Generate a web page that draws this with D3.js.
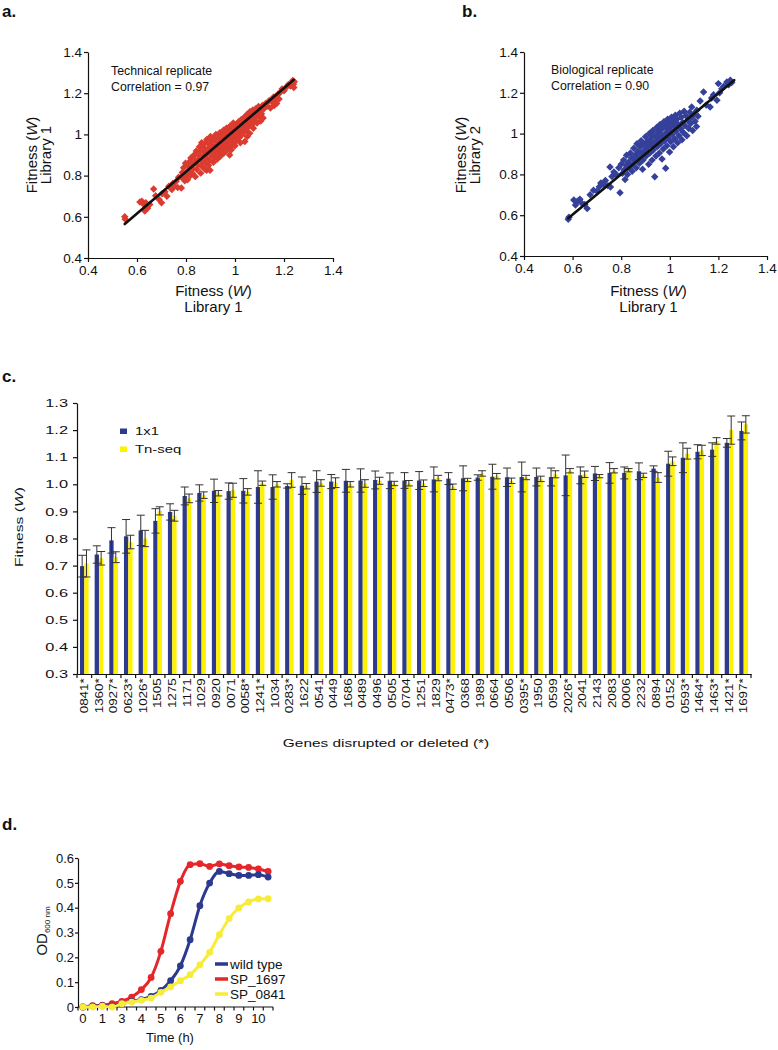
<!DOCTYPE html>
<html><head><meta charset="utf-8">
<script src="https://cdn.jsdelivr.net/npm/d3@7/dist/d3.min.js"></script>
<style>
html,body{margin:0;padding:0;background:#fff;}
svg{display:block;}
text{font-family:'Liberation Sans',Arial,Helvetica,sans-serif;fill:#111;}
</style></head><body>
<svg id="fig" width="778" height="1050"></svg>
<script>
// ================= DATA =================
// Panel a: technical replicate (Library 1 vs Library 1)
const techPoints = [
[0.550,0.600],[0.552,0.588],[0.612,0.672],[0.620,0.676],[0.626,0.662],[0.636,0.668],[0.632,0.628],[0.643,0.642],
[0.652,0.660],[0.668,0.735],[0.676,0.702],[0.690,0.684],[0.700,0.668],[0.702,0.712],[0.714,0.722],[0.722,0.700],
[0.730,0.748],[0.742,0.732],[0.746,0.762],[0.752,0.748],[0.760,0.772],[0.766,0.742],[0.770,0.792],[0.781,0.740],
[0.884,0.826],[0.898,0.826],[0.978,0.900],
[0.782,0.792],[0.785,0.815],[0.790,0.838],[0.795,0.775],[0.798,0.860],[0.800,0.800],
[0.806,0.780],[0.808,0.822],[0.812,0.846],[0.815,0.868],[0.818,0.800],[0.820,0.885],
[0.826,0.812],[0.828,0.835],[0.830,0.858],[0.833,0.900],[0.836,0.878],[0.838,0.795],[0.842,0.920],[0.845,0.830],[0.847,0.852],
[0.850,0.875],[0.852,0.898],[0.855,0.940],[0.857,0.918],[0.860,0.812],[0.862,0.848],[0.864,0.960],[0.866,0.870],[0.868,0.895],
[0.872,0.935],[0.874,0.915],[0.876,0.832],[0.878,0.958],[0.880,0.860],[0.882,0.885],[0.885,0.975],[0.887,0.905],[0.889,0.930],
[0.892,0.850],[0.895,0.952],[0.897,0.875],[0.900,0.990],[0.902,0.900],[0.904,0.925],[0.906,0.968],[0.908,0.945],
[0.912,0.865],[0.914,0.890],[0.916,0.985],[0.918,0.915],[0.920,0.940],[0.922,1.000],[0.925,0.962],[0.928,0.880],
[0.930,0.905],[0.932,0.930],[0.934,0.982],[0.936,0.955],[0.938,1.008],[0.941,0.895],[0.944,0.920],[0.946,0.945],[0.948,0.972],
[0.951,0.995],[0.953,1.020],[0.955,0.910],[0.958,0.935],[0.960,0.960],[0.962,0.985],[0.965,1.030],[0.967,1.008],[0.969,0.925],
[0.972,0.950],[0.974,0.975],[0.976,1.000],[0.979,1.040],[0.981,1.022],[0.983,0.940],[0.986,0.965],[0.988,0.990],[0.985,0.925],
[0.991,1.015],[0.993,1.055],[0.995,0.955],[0.998,0.980],[1.000,1.005],[1.002,1.035],[1.005,0.970],[1.007,1.050],[1.000,0.945],
[1.010,0.995],[1.012,1.020],[1.015,1.062],[1.018,0.985],[1.020,1.042],[1.023,1.010],[1.026,1.072],[1.022,0.960],
[1.028,0.998],[1.031,1.030],[1.034,1.055],[1.036,1.012],[1.039,1.085],[1.042,1.040],[1.045,1.020],[1.040,0.965],
[1.048,1.065],[1.050,1.098],[1.053,1.035],[1.056,1.050],[1.058,1.080],[1.061,1.110],[1.064,1.062],[1.050,0.990],[1.060,1.005],
[1.067,1.092],[1.070,1.048],[1.073,1.118],[1.076,1.075],[1.079,1.100],[1.082,1.068],[1.085,1.125],[1.075,1.030],
[1.088,1.090],[1.092,1.110],[1.096,1.135],[1.100,1.085],[1.104,1.118],[1.108,1.100],[1.112,1.140],[1.118,1.125],
[1.090,1.055],[1.105,1.065],[1.115,1.080],
[1.125,1.150],[1.132,1.138],[1.140,1.165],[1.150,1.160],[1.158,1.182],[1.165,1.175],[1.175,1.195],[1.185,1.205],
[1.192,1.220],[1.200,1.212],[1.210,1.230],[1.218,1.242],[1.226,1.235],[1.232,1.250],[1.238,1.244],[1.240,1.228],
[1.242,1.255],[1.236,1.262],[1.160,1.140],[1.145,1.128],[1.170,1.150],[1.180,1.172]
];
const techFit = [[0.55,0.565],[1.24,1.265]];

// Panel b: biological replicate (Library 2 vs Library 1)
const bioPoints = [
[0.582,0.580],[0.585,0.590],[0.605,0.675],[0.612,0.650],[0.620,0.668],[0.630,0.678],[0.637,0.660],[0.650,0.652],
[0.660,0.633],[0.672,0.700],[0.686,0.722],[0.700,0.718],[0.710,0.740],[0.716,0.758],[0.726,0.752],[0.735,0.770],
[0.745,0.745],[0.754,0.836],[0.756,0.738],[0.762,0.790],[0.770,0.812],[0.780,0.800],[0.790,0.832],[0.795,0.710],
[0.800,0.850],[0.805,0.805],
[0.810,0.870],[0.812,0.822],[0.816,0.775],[0.820,0.845],[0.822,0.894],[0.826,0.800],[0.830,0.860],[0.834,0.830],
[0.838,0.905],[0.842,0.880],[0.845,0.815],[0.848,0.850],[0.852,0.928],[0.855,0.870],[0.858,0.895],[0.862,0.832],
[0.865,0.950],[0.868,0.912],[0.872,0.880],[0.875,0.855],[0.878,0.935],[0.882,0.965],[0.885,0.900],[0.888,0.825],
[0.890,0.870],[0.893,0.948],[0.896,0.920],[0.900,0.985],[0.903,0.890],[0.906,0.960],[0.910,0.935],[0.913,0.850],
[0.916,1.000],[0.918,0.905],[0.921,0.975],[0.924,0.945],[0.927,0.870],[0.930,1.015],[0.932,0.920],[0.935,0.990],
[0.938,0.788],[0.940,0.960],[0.943,0.890],[0.946,1.030],[0.948,0.935],[0.951,1.005],[0.954,0.975],[0.957,0.905],
[0.960,1.045],[0.962,0.950],[0.965,1.020],[0.968,0.875],[0.970,0.990],[0.973,0.925],[0.976,1.058],[0.978,0.965],
[0.980,1.035],[0.983,0.830],[0.985,1.005],[0.988,0.940],[0.991,1.070],[0.993,0.980],[0.996,1.048],[0.999,0.910],
[1.001,1.020],[1.004,0.960],[1.007,1.080],[1.009,0.995],[1.012,1.060],[1.015,0.935],[1.018,1.035],[1.020,0.975],
[1.023,1.090],[1.026,1.010],[1.029,1.070],[1.032,0.955],[1.035,1.045],[1.038,0.990],[1.041,1.100],[1.044,1.025],
[1.047,1.080],[1.050,0.970],[1.053,1.055],[1.056,1.005],[1.059,1.110],[1.062,1.040],[1.066,1.088],[1.070,0.990],
[1.074,1.065],[1.078,1.025],[1.082,1.105],[1.086,1.050],[1.090,1.080],[1.094,1.015],[1.098,1.095],[1.104,1.060],
[1.110,1.035],[1.116,1.085],[0.880,0.905],[0.905,0.915],[0.925,0.960],[0.945,0.985],[0.965,0.990],[0.985,1.030],
[1.005,1.040],[1.025,1.050],[0.860,0.880],[0.915,0.955],[0.955,0.950],[0.995,1.000],
[1.090,1.130],[1.111,1.115],[1.125,1.160],[1.139,1.204],[1.150,1.140],[1.166,1.130],[1.172,1.175],[1.180,1.190],
[1.194,1.163],[1.200,1.245],[1.205,1.200],[1.214,1.220],[1.222,1.232],[1.235,1.253],[1.242,1.240],[1.249,1.261],[1.255,1.250]
];
const bioFit = [[0.582,0.585],[1.265,1.262]];
const scatterTicks = [0.4, 0.6, 0.8, 1, 1.2, 1.4];

// Panel c: fitness of individual mutants, 1x1 competition vs Tn-seq
const genes = ["0841*","1360*","0927*","0623*","1026*","1505","1275","1171","1029","0920","0071","0058*","1241*","1034","0283*",
"1622","0541","0449","1686","0489","0496","0505","0704","1251","1829","0473*","0368","1989","0664","0506","0395*","1950","0599",
"2026*","2041","2143","2083","0006","2232","0894","0152","0593*","1464*","1463*","1421*","1697*"];
const fit1x1 = [0.698,0.741,0.793,0.808,0.830,0.865,0.898,0.957,0.968,0.976,0.975,0.976,0.990,0.990,0.994,
0.995,1.010,1.010,1.013,1.014,1.016,1.013,1.014,1.014,1.018,1.021,1.022,1.025,1.028,1.026,1.027,1.027,1.027,
1.033,1.033,1.040,1.042,1.042,1.048,1.058,1.076,1.098,1.120,1.128,1.153,1.197];
const err1x1 = [0.040,0.032,0.047,0.062,0.056,0.045,0.030,0.033,0.030,0.043,0.030,0.045,0.060,0.045,0.008,
0.032,0.040,0.026,0.042,0.043,0.033,0.029,0.029,0.033,0.046,0.022,0.046,0.010,0.046,0.034,0.055,0.033,0.033,
0.075,0.031,0.026,0.038,0.022,0.031,0.010,0.046,0.055,0.026,0.025,0.016,0.033];
const fitTnseq = [0.708,0.727,0.731,0.787,0.800,0.902,0.884,0.948,0.960,0.967,0.978,0.972,1.004,1.000,1.016,
0.993,1.005,1.006,1.000,1.003,1.013,1.003,1.004,1.004,1.023,0.991,1.016,1.040,1.030,1.013,1.025,1.020,1.037,
1.050,1.037,1.030,1.050,1.052,1.033,1.025,1.085,1.113,1.125,1.160,1.200,1.221];
const errTnseq = [0.050,0.025,0.020,0.025,0.030,0.015,0.020,0.016,0.012,0.010,0.026,0.012,0.008,0.010,0.027,
0.010,0.012,0.018,0.010,0.014,0.013,0.008,0.010,0.012,0.010,0.010,0.006,0.010,0.010,0.010,0.008,0.010,0.013,
0.008,0.012,0.006,0.008,0.006,0.008,0.018,0.016,0.020,0.019,0.012,0.052,0.032];
const barTicks = [0.3,0.4,0.5,0.6,0.7,0.8,0.9,1.0,1.1,1.2,1.3];
const barSeries = ["1x1","Tn-seq"];

// Panel d: growth curves (category axis: 20 readings, labelled every second reading)
const timeLabels = ["0","","1","","3","","4","","5","","6","","7","","8","","9","","10",""];
const odWild = [0,0.003,0.005,0.003,0.013,0.023,0.030,0.043,0.067,0.106,0.166,0.271,0.408,0.499,0.546,0.537,0.530,0.530,0.533,0.523];
const od1697 = [0,0.005,0.007,0.013,0.023,0.040,0.070,0.119,0.224,0.376,0.506,0.573,0.577,0.566,0.576,0.569,0.564,0.562,0.556,0.546];
const od0841 = [0,0,0.003,0,0.013,0.020,0.027,0.036,0.059,0.081,0.106,0.130,0.170,0.220,0.291,0.356,0.399,0.423,0.435,0.436];
const odTicks = [0,0.1,0.2,0.3,0.4,0.5,0.6];
const growthNames = ["wild type","SP_1697","SP_0841"];

// ================= DRAWING =================
const svg = d3.select('#fig');
const C = {red:'#dc3b2f', blueDot:'#34409a', barBlue:'#2d3a8e', barYellow:'#fff200',
           lineBlue:'#2b3990', lineRed:'#e5262b', lineYellow:'#f8ec3a'};

function panelLabel(x, y, s) {
  svg.append('text').attr('x', x).attr('y', y).attr('font-size', 17).attr('font-weight', 'bold').text(s);
}
function fitnessTspans(t) {
  t.append('tspan').text('Fitness (');
  t.append('tspan').attr('font-style', 'italic').text('W');
  t.append('tspan').text(')');
}
function stxt(parent, x, y, s, size, sx, anchor, rot) {
  return parent.append('text')
    .attr('transform', `translate(${x},${y}) rotate(${rot||0}) scale(${sx},1)`)
    .attr('font-size', size).attr('text-anchor', anchor || 'start').text(s);
}

function scatter(cfg) {
  const g = svg.append('g');
  const x = d3.scaleLinear().domain([0.4, 1.4]).range([cfg.left, cfg.right]);
  const y = d3.scaleLinear().domain([0.4, 1.4]).range([cfg.bottom, cfg.top]);
  const sym = d3.symbol(d3.symbolSquare, 28);
  g.append('g').selectAll('path').data(cfg.points).join('path')
    .attr('d', sym)
    .attr('transform', d => `translate(${x(d[0])},${y(d[1])}) rotate(45)`)
    .attr('fill', cfg.color);
  g.append('line')
    .attr('x1', x(cfg.fit[0][0])).attr('y1', y(cfg.fit[0][1]))
    .attr('x2', x(cfg.fit[1][0])).attr('y2', y(cfg.fit[1][1]))
    .attr('stroke', '#111').attr('stroke-width', 2.6).attr('stroke-linecap', 'round');
  const ax = g.append('g').attr('transform', `translate(0,${cfg.bottom})`)
    .call(d3.axisBottom(x).tickValues(scatterTicks).tickFormat(d => String(d)).tickSize(4).tickSizeOuter(0).tickPadding(3));
  const ay = g.append('g').attr('transform', `translate(${cfg.left},0)`)
    .call(d3.axisLeft(y).tickValues(scatterTicks).tickFormat(d => String(d)).tickSize(4).tickSizeOuter(0).tickPadding(2));
  [ax, ay].forEach(a => {
    a.selectAll('text').attr('font-size', 13.5).attr('font-family', null).attr('fill', '#111');
    a.selectAll('path,line').attr('stroke', '#111').attr('stroke-width', 1.2);
  });
  g.append('text').attr('x', cfg.annX).attr('y', cfg.annY).attr('font-size', 12.3).text(cfg.ann1);
  g.append('text').attr('x', cfg.annX).attr('y', cfg.annY + 15.5).attr('font-size', 12.3).text(cfg.ann2);
  const cx = (cfg.left + cfg.right) / 2 + 3;
  fitnessTspans(g.append('text').attr('x', cx).attr('y', 296).attr('font-size', 15).attr('text-anchor', 'middle'));
  g.append('text').attr('x', cx).attr('y', 312).attr('font-size', 15).attr('text-anchor', 'middle').text('Library 1');
  const cy = 155;
  fitnessTspans(g.append('text').attr('transform', `translate(${cfg.ytX},${cy}) rotate(-90)`).attr('font-size', 15).attr('text-anchor', 'middle'));
  g.append('text').attr('transform', `translate(${cfg.ytX + 14},${cy}) rotate(-90)`).attr('font-size', 15).attr('text-anchor', 'middle').text(cfg.yLib);
}

panelLabel(2, 17, 'a.');
scatter({points: techPoints, fit: techFit, color: C.red, left: 88, right: 333, top: 52, bottom: 258,
  annX: 111, annY: 75, ann1: 'Technical replicate', ann2: 'Correlation = 0.97', ytX: 37, yLib: 'Library 1'});
panelLabel(462, 17, 'b.');
scatter({points: bioPoints, fit: bioFit, color: C.blueDot, left: 524, right: 767, top: 52, bottom: 256,
  annX: 551, annY: 74, ann1: 'Biological replicate', ann2: 'Correlation = 0.90', ytX: 466, yLib: 'Library 2'});

// ---------- Panel c ----------
panelLabel(2, 382, 'c.');
(function () {
  const g = svg.append('g');
  const x = d3.scaleBand().domain(genes).range([77, 751]).paddingInner(0.41).paddingOuter(0.205);
  const x1 = d3.scaleBand().domain(barSeries).range([0, x.bandwidth()]);
  const y = d3.scaleLinear().domain([0.3, 1.3]).range([674, 403]);
  const rows = genes.map((gname, i) => ({g: gname, v: [fit1x1[i], fitTnseq[i]], e: [err1x1[i], errTnseq[i]]}));
  const colors = [C.barBlue, C.barYellow];
  const grp = g.append('g').selectAll('g').data(rows).join('g').attr('transform', d => `translate(${x(d.g)},0)`);
  barSeries.forEach((s, k) => {
    grp.append('rect').attr('x', x1(s)).attr('width', x1.bandwidth())
      .attr('y', d => y(d.v[k])).attr('height', d => y(0.3) - y(d.v[k])).attr('fill', colors[k]);
  });
  barSeries.forEach((s, k) => {
    const cxp = x1(s) + x1.bandwidth() / 2;
    grp.append('line').attr('x1', cxp).attr('x2', cxp)
      .attr('y1', d => y(d.v[k] - d.e[k])).attr('y2', d => y(d.v[k] + d.e[k]))
      .attr('stroke', '#333').attr('stroke-width', 1);
    [-1, 1].forEach(sg => {
      grp.append('line').attr('x1', cxp - 4).attr('x2', cxp + 4)
        .attr('y1', d => y(d.v[k] + sg * d.e[k])).attr('y2', d => y(d.v[k] + sg * d.e[k]))
        .attr('stroke', '#333').attr('stroke-width', 1);
    });
  });
  const ay = g.append('g').attr('transform', 'translate(77,0)')
    .call(d3.axisLeft(y).tickValues(barTicks).tickFormat(d3.format('.1f')).tickSize(4).tickSizeOuter(0));
  ay.selectAll('text').attr('x', 0).attr('font-size', 11.3).attr('font-family', null).attr('fill', '#111')
    .attr('transform', 'translate(-9,0) scale(1.45,1)');
  const ax = g.append('g').attr('transform', 'translate(0,674)')
    .call(d3.axisBottom(x).tickSize(0).tickSizeOuter(0));
  ax.selectAll('text').attr('font-size', 10.5).attr('font-family', null).attr('fill', '#111')
    .attr('text-anchor', 'end').attr('x', -3.3).attr('y', 0).attr('dy', '0.36em')
    .attr('transform', 'rotate(-90) scale(1.28,1)');
  [ay, ax].forEach(a => a.selectAll('path,line').attr('stroke', '#111').attr('stroke-width', 1.2));
  const half = (x.step() - x.bandwidth()) / 2;
  const bounds = genes.map(gname => x(gname) - half).concat([x(genes[genes.length - 1]) + x.bandwidth() + half]);
  g.append('g').selectAll('line').data(bounds).join('line')
    .attr('x1', d => d).attr('x2', d => d).attr('y1', 674).attr('y2', 678)
    .attr('stroke', '#111').attr('stroke-width', 1.2);
  barSeries.forEach((s, k) => {
    g.append('rect').attr('x', 120).attr('y', 428.5 + k * 18).attr('width', 7).attr('height', 5.5).attr('fill', colors[k]);
    stxt(g, 135, 434.5 + k * 18, s, 10.5, 1.42, 'start', 0);
  });
  stxt(g, 386, 747, 'Genes disrupted or deleted (*)', 11.6, 1.33, 'middle', 0);
  const yt = g.append('text').attr('transform', 'translate(23,527) rotate(-90) scale(1.35,1)')
    .attr('font-size', 11.6).attr('text-anchor', 'middle');
  fitnessTspans(yt);
})();

// ---------- Panel d ----------
panelLabel(2, 830, 'd.');
(function () {
  const g = svg.append('g');
  const idx = timeLabels.map((_, i) => i);
  const x = d3.scalePoint().domain(idx).range([78, 273]).padding(0.5);
  const y = d3.scaleLinear().domain([0, 0.6]).range([1007, 858]);
  const step = x.step();
  // x axis line and category ticks
  g.append('line').attr('x1', 78).attr('x2', 273).attr('y1', 1007).attr('y2', 1007).attr('stroke', '#111').attr('stroke-width', 1.2);
  const bounds = idx.map(i => x(i) - step / 2).concat([x(idx[idx.length - 1]) + step / 2]);
  g.append('g').selectAll('line').data(bounds).join('line')
    .attr('x1', d => d).attr('x2', d => d).attr('y1', 1007).attr('y2', 1010.5)
    .attr('stroke', '#111').attr('stroke-width', 1.2);
  g.append('g').selectAll('text').data(idx.filter(i => timeLabels[i] !== '')).join('text')
    .attr('x', i => x(i)).attr('y', 1023).attr('font-size', 13).attr('text-anchor', 'middle').text(i => timeLabels[i]);
  const ay = g.append('g').attr('transform', 'translate(78,0)')
    .call(d3.axisLeft(y).tickValues(odTicks).tickFormat(d => String(d)).tickSize(3).tickSizeOuter(0).tickPadding(1));
  ay.selectAll('text').attr('font-size', 13).attr('font-family', null).attr('fill', '#111');
  ay.selectAll('path,line').attr('stroke', '#111').attr('stroke-width', 1.2);
  const series = [
    {name: growthNames[1], v: od1697, c: C.lineRed},
    {name: growthNames[0], v: odWild, c: C.lineBlue},
    {name: growthNames[2], v: od0841, c: C.lineYellow}
  ];
  const line = d3.line().x(d => x(d[0])).y(d => y(d[1])).curve(d3.curveMonotoneX);
  series.forEach(s => {
    const pts = idx.map(i => [i, s.v[i]]);
    g.append('path').datum(pts).attr('d', line).attr('fill', 'none').attr('stroke', s.c).attr('stroke-width', 3);
    g.append('g').selectAll('circle').data(pts).join('circle')
      .attr('cx', d => x(d[0])).attr('cy', d => y(d[1])).attr('r', 3.4).attr('fill', s.c);
  });
  const legend = [{name: growthNames[0], c: C.lineBlue}, {name: growthNames[1], c: C.lineRed}, {name: growthNames[2], c: C.lineYellow}];
  legend.forEach((s, k) => {
    const yy = 964 + k * 15;
    g.append('line').attr('x1', 215).attr('x2', 228).attr('y1', yy).attr('y2', yy).attr('stroke', s.c).attr('stroke-width', 3.5);
    g.append('text').attr('x', 230).attr('y', yy + 4.7).attr('font-size', 13.5).text(s.name);
  });
  g.append('text').attr('x', 170).attr('y', 1042).attr('font-size', 13).attr('text-anchor', 'middle').text('Time (h)');
  const yt = g.append('text').attr('transform', 'translate(47,931) rotate(-90)').attr('font-size', 15).attr('text-anchor', 'middle');
  yt.append('tspan').text('OD');
  yt.append('tspan').attr('font-size', 8).attr('dy', 3).text('600 nm');
})();
</script>
</body></html>
